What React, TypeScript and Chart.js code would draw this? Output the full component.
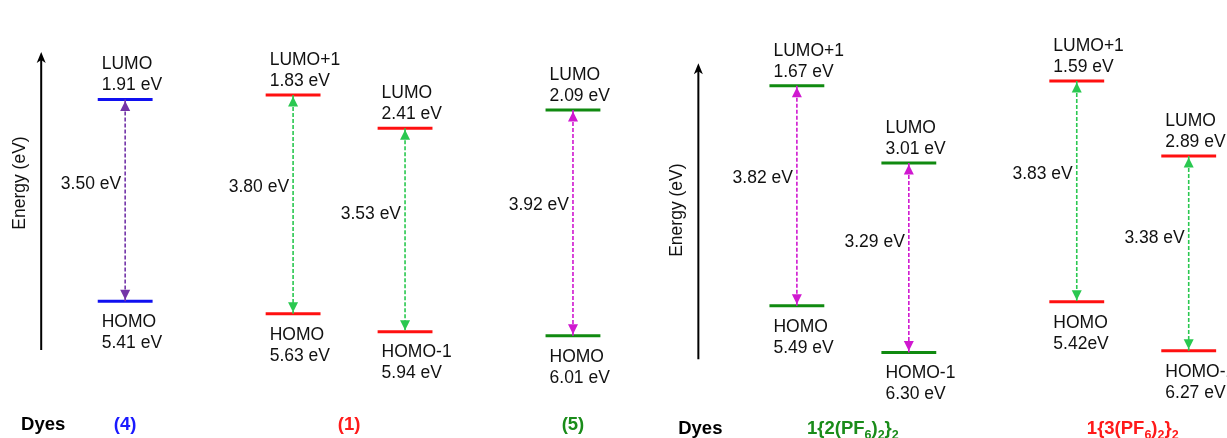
import React, { useEffect, useRef } from 'react';
import { Chart, registerables } from 'chart.js';

Chart.register(...registerables);

// ---- data ----
const dyeNames = ['(4)', '(1)', '(5)', '1{2(PF_6)_2}_2', '1{3(PF_6)_2}_2'];
const dyePanel = [0, 0, 0, 1, 1];

// one entry per transition (pair of levels)
const pairDye = [0, 1, 1, 2, 3, 3, 4, 4];
const upperNames = ['LUMO', 'LUMO+1', 'LUMO', 'LUMO', 'LUMO+1', 'LUMO', 'LUMO+1', 'LUMO'];
const upperEnergies = [1.91, 1.83, 2.41, 2.09, 1.67, 3.01, 1.59, 2.89];
const lowerNames = ['HOMO', 'HOMO', 'HOMO-1', 'HOMO', 'HOMO', 'HOMO-1', 'HOMO', 'HOMO-1'];
const lowerEnergies = [5.41, 5.63, 5.94, 6.01, 5.49, 6.30, 5.42, 6.27];
const upperValueText = ['1.91 eV', '1.83 eV', '2.41 eV', '2.09 eV', '1.67 eV', '3.01 eV', '1.59 eV', '2.89 eV'];
const lowerValueText = ['5.41 eV', '5.63 eV', '5.94 eV', '6.01 eV', '5.49 eV', '6.30 eV', '5.42eV', '6.27 eV'];

// ---- layout / style ----
const pairSlots = [0, 1.5, 2.5, 4, 6, 7, 8.5, 9.5];
const levelHalfWidth = 0.245;
const dyeLevelColors = ['#1010f0', '#ff1010', '#108a10', '#108a10', '#ff1010'];
const dyeLabelColors = ['#1a1aff', '#ff1a1a', '#1a8c1a', '#1a8c1a', '#ff1a1a'];
const transitionColors = ['#7334a8', '#2ac850', '#d018d0', '#d018d0', '#2ac850'];
const panelAxisSlots = [-0.75, 5.12];
const panelAxisEnergy = [[6.26, 1.085], [6.42, 1.28]];
const panelTitleEnergy = [3.36, 3.83];
const panelDyesSlot = [-0.93, 4.94];
const panelBaselineFromBottom = [8, 4];

const FONT = '"Liberation Sans", Arial, sans-serif';
const font = (size: number, bold = false) => `${bold ? 'bold ' : ''}${size}px ${FONT}`;

function drawRich(ctx: CanvasRenderingContext2D, text: string, cx: number, baseline: number, color: string) {
  // "_x" marks a subscript character
  const parts: { t: string; sub: boolean }[] = [];
  let buf = '';
  for (let i = 0; i < text.length; i++) {
    if (text[i] === '_' && i + 1 < text.length) {
      if (buf) parts.push({ t: buf, sub: false });
      buf = '';
      parts.push({ t: text[i + 1], sub: true });
      i++;
    } else buf += text[i];
  }
  if (buf) parts.push({ t: buf, sub: false });
  const widths = parts.map((p) => {
    ctx.font = font(p.sub ? 12.5 : 18.5, true);
    return ctx.measureText(p.t).width;
  });
  const total = widths.reduce((a, b) => a + b, 0);
  let x = cx - total / 2;
  ctx.fillStyle = color;
  ctx.textAlign = 'left';
  ctx.textBaseline = 'alphabetic';
  parts.forEach((p, i) => {
    ctx.font = font(p.sub ? 12.5 : 18.5, true);
    ctx.fillText(p.t, x, baseline + (p.sub ? 5 : 0));
    x += widths[i];
  });
}

const diagramPlugin = {
  id: 'diagram',
  afterDatasetsDraw(chart: any) {
    const ctx: CanvasRenderingContext2D = chart.ctx;
    const xs = chart.scales.x;
    const ys = chart.scales.y;
    ctx.save();

    const head = (x: number, tipY: number, dir: number, color: string) => {
      ctx.fillStyle = color;
      ctx.beginPath();
      ctx.moveTo(x, tipY);
      ctx.lineTo(x - 5, tipY + dir * 10);
      ctx.lineTo(x + 5, tipY + dir * 10);
      ctx.closePath();
      ctx.fill();
    };

    pairDye.forEach((d, i) => {
      const x = xs.getPixelForValue(pairSlots[i]);
      const left = xs.getPixelForValue(pairSlots[i] - levelHalfWidth);
      const yU = ys.getPixelForValue(upperEnergies[i]);
      const yL = ys.getPixelForValue(lowerEnergies[i]);
      head(x, yU + 1.5, 1, transitionColors[d]);
      head(x, yL - 1.5, -1, transitionColors[d]);

      ctx.fillStyle = '#111';
      ctx.font = font(17.5);
      ctx.textBaseline = 'middle';
      ctx.textAlign = 'left';
      ctx.fillText(upperNames[i], left + 4, yU - 35);
      ctx.fillText(upperValueText[i], left + 4, yU - 14);
      ctx.fillText(lowerNames[i], left + 4, yL + 21);
      ctx.fillText(lowerValueText[i], left + 4, yL + 42);

      const gap = (lowerEnergies[i] - upperEnergies[i]).toFixed(2) + ' eV';
      ctx.textAlign = 'right';
      ctx.fillText(gap, x - 4, yU + (yL - yU) * 0.42);
    });

    // panel energy axes and titles
    [0, 1].forEach((p) => {
      const ax = xs.getPixelForValue(panelAxisSlots[p]);
      const y0 = ys.getPixelForValue(panelAxisEnergy[p][0]);
      const y1 = ys.getPixelForValue(panelAxisEnergy[p][1]);
      ctx.strokeStyle = '#000';
      ctx.lineWidth = 2;
      ctx.beginPath();
      ctx.moveTo(ax, y0);
      ctx.lineTo(ax, y1 + 6);
      ctx.stroke();
      ctx.fillStyle = '#000';
      ctx.beginPath();
      ctx.moveTo(ax, y1);
      ctx.lineTo(ax - 4.5, y1 + 11);
      ctx.lineTo(ax, y1 + 8);
      ctx.lineTo(ax + 4.5, y1 + 11);
      ctx.closePath();
      ctx.fill();

      ctx.save();
      ctx.translate(ax - 21.5, ys.getPixelForValue(panelTitleEnergy[p]));
      ctx.rotate(-Math.PI / 2);
      ctx.fillStyle = '#111';
      ctx.font = font(17.5);
      ctx.textAlign = 'center';
      ctx.textBaseline = 'middle';
      ctx.fillText('Energy (eV)', 0, 0);
      ctx.restore();

      const baseline = chart.height - panelBaselineFromBottom[p];
      ctx.fillStyle = '#000';
      ctx.font = font(18.5, true);
      ctx.textAlign = 'left';
      ctx.textBaseline = 'alphabetic';
      ctx.fillText('Dyes', xs.getPixelForValue(panelDyesSlot[p]), baseline);
    });

    // dye labels centred under their columns
    dyeNames.forEach((name, d) => {
      const slots = pairSlots.filter((_, i) => pairDye[i] === d);
      const mid = slots.reduce((a, b) => a + b, 0) / slots.length;
      const baseline = chart.height - panelBaselineFromBottom[dyePanel[d]];
      drawRich(ctx, name, xs.getPixelForValue(mid), baseline, dyeLabelColors[d]);
    });

    ctx.restore();
  },
};

export default function App() {
  const ref = useRef<HTMLCanvasElement | null>(null);
  useEffect(() => {
    if (!ref.current) return;
    const datasets: any[] = [];
    pairDye.forEach((d, i) => {
      datasets.push({
        data: [
          { x: pairSlots[i], y: upperEnergies[i] },
          { x: pairSlots[i], y: lowerEnergies[i] },
        ],
        borderColor: transitionColors[d],
        borderWidth: 1.6,
        borderDash: [4, 2],
        pointRadius: 0,
        fill: false,
      });
      [upperEnergies[i], lowerEnergies[i]].forEach((e) =>
        datasets.push({
          data: [
            { x: pairSlots[i] - levelHalfWidth, y: e },
            { x: pairSlots[i] + levelHalfWidth, y: e },
          ],
          borderColor: dyeLevelColors[d],
          borderWidth: 3,
          borderCapStyle: 'butt',
          pointRadius: 0,
          fill: false,
        })
      );
    });
    const chart = new Chart(ref.current, {
      type: 'line',
      data: { datasets },
      options: {
        responsive: false,
        animation: false,
        devicePixelRatio: 1,
        layout: { padding: 0 },
        scales: {
          x: { type: 'linear', min: -1.118, max: 9.842, display: false },
          y: { type: 'linear', min: 0.182, max: 7.786, reverse: true, display: false },
        },
        plugins: { legend: { display: false }, tooltip: { enabled: false } },
      },
      plugins: [diagramPlugin],
    } as any);
    return () => chart.destroy();
  }, []);
  return (
    <div style={{ position: 'absolute', left: 0, top: 0, width: 1227, height: 438, background: '#fff' }}>
      <canvas ref={ref} width={1227} height={438} />
    </div>
  );
}
